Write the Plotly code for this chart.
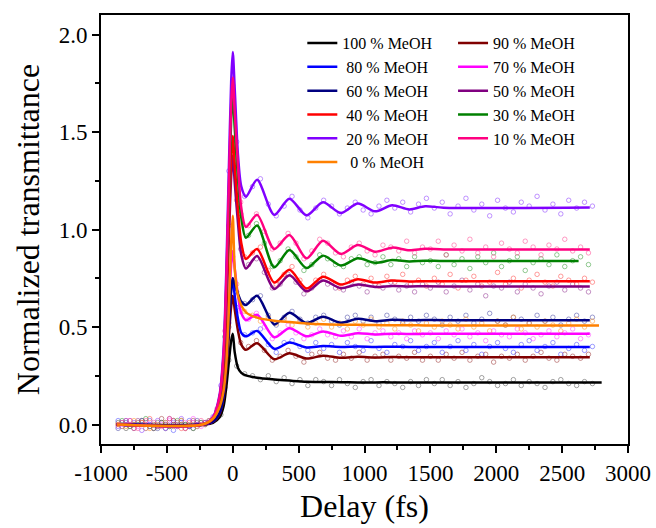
import plotly.graph_objects as go

# ---------------- data ----------------
SERIES = ["100 % MeOH", "90 % MeOH", "80 % MeOH", "70 % MeOH", "60 % MeOH",
          "50 % MeOH", "40 % MeOH", "30 % MeOH", "20 % MeOH", "10 % MeOH", "0 % MeOH"]

# x grid of the fitted curves (fs); last point per series is in FIT_END_X
FIT_X = [-880, -230, -150, -100, -70, -50, -30, -12, 0, 15, 40, 65, 100, 185,
         315, 430, 560, 685, 820, 950, 1080, 1210, 1340, 1460, 1600]
FIT_END_X = [2800, 2710, 2710, 2710, 2710, 2710, 2710, 2625, 2710, 2710, 2780]

FIT_100 = [0, 0, 0.009, 0.037, 0.093, 0.186, 0.317, 0.43, 0.466, 0.37, 0.29, 0.265, 0.252,
           0.24, 0.231, 0.225, 0.219, 0.218, 0.217, 0.216, 0.216, 0.216, 0.215, 0.215, 0.215, 0.215]
FIT_90 = [0, 0, 0.013, 0.053, 0.132, 0.264, 0.449, 0.607, 0.66, 0.59, 0.48, 0.41, 0.383,
          0.417, 0.335, 0.365, 0.338, 0.353, 0.342, 0.347, 0.344, 0.346, 0.345, 0.345, 0.345, 0.345]
FIT_80 = [0, 0, 0.015, 0.06, 0.15, 0.30, 0.51, 0.69, 0.75, 0.66, 0.54, 0.47, 0.452,
          0.48, 0.388, 0.42, 0.395, 0.402, 0.398, 0.40, 0.398, 0.399, 0.398, 0.398, 0.398, 0.398]
FIT_70 = [0, 0, 0.018, 0.071, 0.178, 0.356, 0.605, 0.82, 0.89, 0.80, 0.66, 0.57, 0.535,
          0.563, 0.447, 0.494, 0.452, 0.477, 0.455, 0.468, 0.462, 0.466, 0.464, 0.465, 0.465, 0.465]
FIT_60 = [0, 0, 0.015, 0.06, 0.15, 0.30, 0.51, 0.69, 0.75, 0.72, 0.67, 0.63, 0.613,
          0.66, 0.513, 0.573, 0.52, 0.552, 0.522, 0.542, 0.53, 0.537, 0.534, 0.536, 0.535, 0.535]
FIT_50 = [0, 0, 0.028, 0.11, 0.276, 0.552, 0.938, 1.27, 1.38, 1.24, 1.03, 0.87, 0.80,
          0.864, 0.695, 0.765, 0.683, 0.738, 0.699, 0.718, 0.705, 0.71, 0.708, 0.709, 0.708, 0.708]
FIT_40 = [0, 0, 0.03, 0.118, 0.296, 0.592, 1.006, 1.362, 1.48, 1.33, 1.10, 0.93, 0.849,
          0.90, 0.728, 0.793, 0.697, 0.758, 0.718, 0.745, 0.728, 0.738, 0.733, 0.735, 0.734, 0.734]
FIT_30 = [0, 0, 0.034, 0.136, 0.34, 0.68, 1.156, 1.564, 1.70, 1.52, 1.26, 1.06, 0.958,
          1.02, 0.806, 0.895, 0.802, 0.866, 0.815, 0.852, 0.829, 0.843, 0.836, 0.84, 0.838, 0.838]
FIT_20 = [0, 0, 0.038, 0.153, 0.382, 0.764, 1.30, 1.757, 1.91, 1.72, 1.38, 1.22, 1.168,
          1.255, 1.075, 1.158, 1.073, 1.14, 1.084, 1.133, 1.093, 1.124, 1.103, 1.119, 1.112, 1.113]
FIT_10 = [0, 0, 0.036, 0.142, 0.356, 0.712, 1.21, 1.638, 1.78, 1.60, 1.32, 1.11, 1.013,
          1.075, 0.90, 0.972, 0.852, 0.942, 0.875, 0.92, 0.886, 0.907, 0.893, 0.901, 0.898, 0.898]
FIT_0 = [0, 0, 0.03, 0.09, 0.17, 0.30, 0.58, 0.93, 1.07, 0.80, 0.66, 0.61, 0.575,
         0.548, 0.532, 0.525, 0.518, 0.514, 0.512, 0.511, 0.51, 0.509, 0.509, 0.508, 0.508, 0.508]

# measured points (open circles)
DOT_X_A = list(range(-870, 2731, 60))
DOT_X_B = list(range(-840, 2701, 60))

DOT_100 = [0.01, -0.02, 0.00, 0.02, -0.01, 0.01, -0.02, 0.00, 0.02, -0.01, 0.01,
           0.00, 0.02, 0.05, 0.33, 0.30, 0.26, 0.25, 0.23, 0.25, 0.22, 0.24, 0.21, 0.23, 0.20,
           0.23, 0.22, 0.20, 0.23, 0.21, 0.19, 0.22, 0.23, 0.20, 0.22, 0.21, 0.19, 0.22, 0.20, 0.23,
           0.21, 0.23, 0.20, 0.22, 0.19, 0.21, 0.24, 0.22, 0.20, 0.21, 0.23, 0.20, 0.22, 0.21, 0.19,
           0.22, 0.23, 0.21, 0.20, 0.22, 0.21]
DOT_90 = [-0.01, 0.02, 0.01, -0.02, 0.00, 0.03, -0.01, 0.01, -0.02, 0.02, 0.00,
          0.01, 0.04, 0.19, 0.64, 0.42, 0.40, 0.43, 0.38, 0.33, 0.35, 0.38, 0.35, 0.32, 0.36,
          0.37, 0.34, 0.33, 0.36, 0.34, 0.37, 0.33, 0.35, 0.36, 0.33, 0.35, 0.34, 0.37, 0.33,
          0.35, 0.33, 0.36, 0.34, 0.37, 0.33, 0.35, 0.36, 0.32, 0.35, 0.34, 0.36, 0.33, 0.35,
          0.37, 0.34, 0.33, 0.36, 0.35, 0.34, 0.36]
DOT_80 = [0.02, 0.00, -0.02, 0.01, 0.02, -0.01, 0.00, -0.03, 0.01, 0.02, -0.01,
          0.00, 0.02, 0.08, 0.52, 0.60, 0.46, 0.47, 0.49, 0.41, 0.37, 0.42, 0.43, 0.40, 0.38,
          0.42, 0.39, 0.41, 0.37, 0.42, 0.40, 0.38, 0.43, 0.39, 0.37, 0.41, 0.40, 0.43, 0.38, 0.40,
          0.42, 0.37, 0.40, 0.43, 0.38, 0.41, 0.36, 0.40, 0.42, 0.39, 0.37, 0.41, 0.43, 0.38, 0.40,
          0.42, 0.36, 0.39, 0.41, 0.38, 0.40]
DOT_70 = [0.00, 0.02, -0.01, 0.01, -0.02, 0.00, 0.02, -0.01, 0.01, 0.03, -0.01,
          0.01, 0.05, 0.24, 0.86, 0.58, 0.54, 0.57, 0.50, 0.44, 0.47, 0.51, 0.47, 0.44, 0.46,
          0.49, 0.46, 0.45, 0.48, 0.45, 0.49, 0.44, 0.47, 0.48, 0.45, 0.47, 0.44, 0.48, 0.46,
          0.47, 0.44, 0.48, 0.46, 0.49, 0.45, 0.47, 0.43, 0.48, 0.46, 0.45, 0.49, 0.47, 0.44,
          0.46, 0.48, 0.45, 0.47, 0.49, 0.44, 0.46]
DOT_60 = [-0.02, 0.01, 0.00, 0.02, -0.01, -0.02, 0.01, 0.02, 0.00, -0.01, 0.02,
          0.01, 0.02, 0.09, 0.50, 0.68, 0.62, 0.64, 0.66, 0.56, 0.51, 0.55, 0.58, 0.54, 0.52,
          0.55, 0.56, 0.53, 0.51, 0.55, 0.56, 0.53, 0.55, 0.52, 0.56, 0.54, 0.52, 0.55, 0.53, 0.56,
          0.54, 0.51, 0.55, 0.53, 0.56, 0.52, 0.54, 0.57, 0.53, 0.51, 0.55, 0.54, 0.52, 0.56, 0.53,
          0.55, 0.51, 0.54, 0.56, 0.53, 0.55]
DOT_50 = [0.01, -0.01, 0.02, 0.00, -0.02, 0.01, 0.03, -0.01, 0.00, -0.02, 0.01,
          0.01, 0.06, 0.35, 1.34, 0.90, 0.82, 0.85, 0.78, 0.70, 0.72, 0.77, 0.73, 0.67, 0.70,
          0.74, 0.72, 0.70, 0.69, 0.73, 0.71, 0.68, 0.72, 0.70, 0.73, 0.69, 0.71, 0.68, 0.72,
          0.70, 0.73, 0.68, 0.71, 0.74, 0.69, 0.72, 0.66, 0.71, 0.70, 0.73, 0.68, 0.72, 0.70,
          0.67, 0.71, 0.73, 0.69, 0.72, 0.70, 0.68]
DOT_40 = [0.00, 0.02, -0.02, 0.01, 0.03, -0.01, 0.00, 0.02, -0.02, 0.01, 0.00,
          0.01, 0.03, 0.15, 1.02, 1.15, 0.86, 0.88, 0.91, 0.79, 0.72, 0.77, 0.81, 0.74, 0.69,
          0.74, 0.77, 0.73, 0.70, 0.74, 0.76, 0.72, 0.75, 0.71, 0.76, 0.73, 0.77, 0.72, 0.74, 0.71,
          0.75, 0.72, 0.77, 0.70, 0.74, 0.76, 0.71, 0.73, 0.78, 0.72, 0.75, 0.70, 0.74, 0.77, 0.73,
          0.71, 0.76, 0.74, 0.72, 0.75, 0.73]
DOT_30 = [0.02, -0.01, 0.00, 0.03, -0.02, 0.01, -0.01, 0.02, 0.00, -0.02, 0.01,
          0.02, 0.07, 0.45, 1.66, 1.08, 0.97, 1.03, 0.93, 0.81, 0.84, 0.90, 0.86, 0.79, 0.82,
          0.87, 0.85, 0.82, 0.81, 0.85, 0.86, 0.82, 0.83, 0.86, 0.82, 0.85, 0.81, 0.86, 0.83,
          0.84, 0.81, 0.87, 0.82, 0.85, 0.80, 0.86, 0.83, 0.88, 0.81, 0.84, 0.86, 0.79, 0.83,
          0.85, 0.82, 0.87, 0.81, 0.84, 0.86, 0.82]
DOT_20 = [-0.01, 0.02, 0.01, -0.03, 0.00, 0.02, -0.02, 0.01, 0.03, -0.01, 0.00,
          0.01, 0.04, 0.20, 1.30, 1.45, 1.17, 1.22, 1.26, 1.13, 1.07, 1.12, 1.17, 1.10, 1.06,
          1.11, 1.15, 1.12, 1.08, 1.11, 1.14, 1.10, 1.08, 1.12, 1.15, 1.11, 1.14, 1.09, 1.13, 1.16,
          1.11, 1.14, 1.08, 1.12, 1.16, 1.10, 1.13, 1.07, 1.15, 1.11, 1.09, 1.14, 1.12, 1.17, 1.10,
          1.13, 1.08, 1.15, 1.11, 1.14, 1.12]
DOT_10 = [0.01, 0.00, -0.02, 0.02, 0.01, -0.01, 0.03, 0.00, -0.02, 0.01, 0.02,
          0.02, 0.08, 0.48, 1.74, 1.14, 1.02, 1.08, 0.99, 0.90, 0.93, 0.98, 0.93, 0.85, 0.89,
          0.95, 0.93, 0.88, 0.86, 0.91, 0.93, 0.89, 0.87, 0.92, 0.91, 0.89, 0.94, 0.88, 0.91,
          0.90, 0.94, 0.87, 0.92, 0.89, 0.95, 0.88, 0.91, 0.86, 0.93, 0.90, 0.88, 0.94, 0.91,
          0.87, 0.92, 0.90, 0.95, 0.89, 0.91, 0.88]
DOT_0 = [0.00, -0.01, 0.02, 0.01, -0.02, 0.00, 0.01, -0.01, 0.02, 0.00, -0.01,
         0.00, 0.03, 0.11, 0.60, 0.72, 0.58, 0.56, 0.53, 0.55, 0.52, 0.54, 0.51, 0.53, 0.50,
         0.52, 0.54, 0.50, 0.52, 0.49, 0.53, 0.51, 0.54, 0.50, 0.52, 0.49, 0.53, 0.51, 0.48, 0.52,
         0.50, 0.53, 0.51, 0.49, 0.54, 0.50, 0.52, 0.48, 0.53, 0.51, 0.55, 0.49, 0.52, 0.50, 0.53,
         0.51, 0.48, 0.52, 0.54, 0.50, 0.53]

X_TICKS = [-1000, -500, 0, 500, 1000, 1500, 2000, 2500, 3000]
X_TICK_TEXT = ["-1000", "-500", "0", "500", "1000", "1500", "2000", "2500", "3000"]
Y_TICKS = [0.0, 0.5, 1.0, 1.5, 2.0]
Y_TICK_TEXT = ["0.0", "0.5", "1.0", "1.5", "2.0"]

# ---------------- styling ----------------
FITS = [FIT_100, FIT_90, FIT_80, FIT_70, FIT_60, FIT_50, FIT_40, FIT_30, FIT_20, FIT_10, FIT_0]
DOTS = [DOT_100, DOT_90, DOT_80, DOT_70, DOT_60, DOT_50, DOT_40, DOT_30, DOT_20, DOT_10, DOT_0]
DOT_GRID = [DOT_X_A, DOT_X_B] * 5 + [DOT_X_A]
LINE_COLORS = ["#000000", "#800000", "#0000FF", "#FF00FF", "#000080", "#800080",
               "#FF0000", "#008000", "#8000FF", "#FF0080", "#FF8000"]
DOT_COLORS = ["rgba(90,90,90,0.55)", "rgba(150,40,40,0.5)", "rgba(60,60,255,0.5)",
              "rgba(255,60,255,0.5)", "rgba(60,60,160,0.5)", "rgba(140,40,140,0.5)",
              "rgba(255,60,60,0.5)", "rgba(40,150,40,0.5)", "rgba(140,60,255,0.55)",
              "rgba(255,60,140,0.5)", "rgba(255,150,40,0.55)"]
LEGEND_LABELS = ["100 % MeOH", "90 % MeOH", "\u00a080 % MeOH", "70 % MeOH",
                 "\u00a060 % MeOH", "50 % MeOH", "\u00a040 % MeOH", "30 % MeOH",
                 "\u00a020 % MeOH", "10 % MeOH", "\u00a0\u00a00 % MeOH"]
LEGEND_REF = ["legend", "legend2"] * 5 + ["legend"]

FONT = "Liberation Serif"

fig = go.Figure()

for i, name in enumerate(SERIES):
    fig.add_trace(go.Scatter(
        x=DOT_GRID[i], y=DOTS[i], mode="markers", showlegend=False, hoverinfo="skip",
        marker=dict(symbol="circle-open", size=4.5, color=DOT_COLORS[i],
                    line=dict(width=1, color=DOT_COLORS[i])),
    ))

for i, name in enumerate(SERIES):
    fig.add_trace(go.Scatter(
        x=FIT_X + [FIT_END_X[i]], y=FITS[i], mode="lines", name=LEGEND_LABELS[i],
        legend=LEGEND_REF[i],
        line=dict(color=LINE_COLORS[i], width=2.5, shape="spline", smoothing=0.8),
    ))

axis_common = dict(
    showline=True, linecolor="black", linewidth=1.8, mirror=True,
    ticks="outside", ticklen=7, tickwidth=1.5, tickcolor="black",
    showgrid=False, zeroline=False, automargin=False,
    tickfont=dict(family=FONT, size=23, color="black"),
)

fig.update_layout(
    width=656, height=528,
    margin=dict(l=101, r=28, t=15, b=84),
    paper_bgcolor="white", plot_bgcolor="white",
    font=dict(family=FONT, color="black"),
    xaxis=dict(range=[-1000, 3000], tickmode="array", tickvals=X_TICKS, ticktext=X_TICK_TEXT,
               minor=dict(dtick=250, ticklen=4, tickwidth=1.5, tickcolor="black", ticks="outside"),
               title=dict(text="Delay (fs)", font=dict(family=FONT, size=32, color="black"),
                          standoff=10),
               **axis_common),
    yaxis=dict(range=[-0.1, 2.1], tickmode="array", tickvals=Y_TICKS, ticktext=Y_TICK_TEXT,
               minor=dict(dtick=0.25, tick0=0, ticklen=4, tickwidth=1.5, tickcolor="black",
                          ticks="outside"),
               title=dict(text="Normalized transmittance",
                          font=dict(family=FONT, size=32, color="black"), standoff=10),
               **axis_common),
    legend=dict(x=0.382, y=0.974, xanchor="left", yanchor="top", bgcolor="rgba(0,0,0,0)",
                font=dict(family=FONT, size=16, color="black"), borderwidth=0),
    legend2=dict(x=0.668, y=0.974, xanchor="left", yanchor="top", bgcolor="rgba(0,0,0,0)",
                 font=dict(family=FONT, size=16, color="black"), borderwidth=0),
)

fig.write_html("out.html", config={"displayModeBar": False},
               post_script="document.body.style.margin='0';document.body.style.padding='0';")
